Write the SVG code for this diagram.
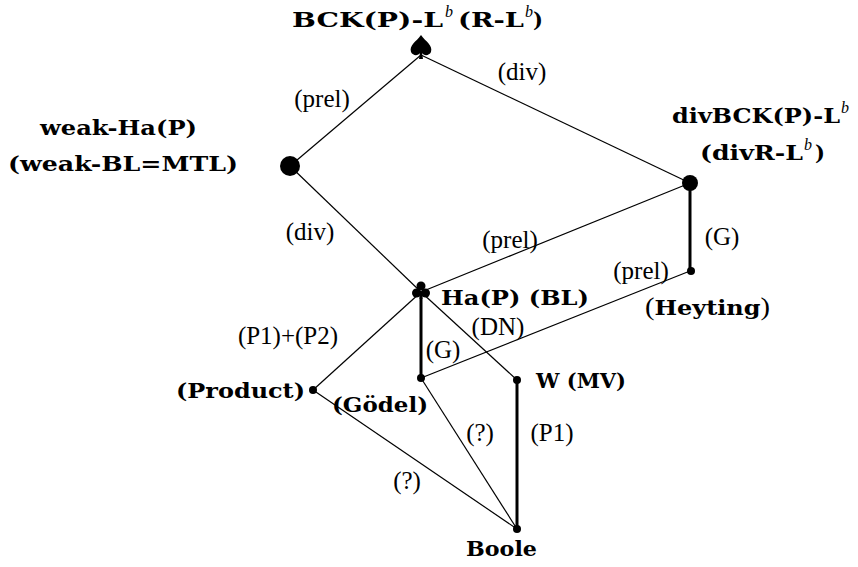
<svg xmlns="http://www.w3.org/2000/svg" width="858" height="567" viewBox="0 0 858 567">
<style>
text{font-family:"Liberation Serif","Times New Roman",serif;font-size:25px;fill:#000}
.lbl{text-anchor:middle}
.b{font-family:"DejaVu Serif","Liberation Serif",serif;font-weight:bold;font-size:21px}
.sup{font-family:"Liberation Serif","Times New Roman",serif;font-style:italic;font-weight:normal;font-size:16px}
.thin{stroke:#000;stroke-width:1.2;fill:none}
.thick{stroke:#000;stroke-width:3;fill:none}
</style>
<rect width="858" height="567" fill="#fff"/>
<g id="connectors">
<line class="thin" x1="421" y1="55" x2="290" y2="166"/>
<line class="thin" x1="421" y1="55" x2="690" y2="183"/>
<line class="thin" x1="290" y1="166" x2="421" y2="292"/>
<line class="thin" x1="421" y1="292" x2="690" y2="183"/>
<line class="thick" x1="690" y1="183" x2="690" y2="271"/>
<line class="thin" x1="690" y1="271" x2="421" y2="378"/>
<line class="thin" x1="421" y1="292" x2="313" y2="390"/>
<line class="thick" x1="421" y1="292" x2="421" y2="378"/>
<line class="thin" x1="421" y1="292" x2="517" y2="380"/>
<line class="thick" x1="517" y1="380" x2="517" y2="529"/>
<line class="thin" x1="313" y1="390" x2="517" y2="529"/>
<line class="thin" x1="421" y1="378" x2="517" y2="529"/>
<text class="lbl" x="522" y="80">(div)</text>
<text class="lbl" x="322" y="107">(prel)</text>
<text class="lbl" x="310" y="240">(div)</text>
<text class="lbl" x="510" y="248">(prel)</text>
<text class="lbl" x="722" y="245">(G)</text>
<text class="lbl" x="641" y="279">(prel)</text>
<text class="lbl" x="498" y="335">(DN)</text>
<text class="lbl" x="288" y="344">(P1)+(P2)</text>
<text class="lbl" x="443" y="358">(G)</text>
<text class="lbl" x="480" y="441">(?)</text>
<text class="lbl" x="552" y="441">(P1)</text>
<text class="lbl" x="407" y="489">(?)</text>
</g>
<g id="n-bck">
<path d="M421,35 C416,42 409,45 411,52 C413,56 418,56 420,53 L419,59 L423,59 L422,53 C424,56 429,56 431,52 C433,45 426,42 421,35 Z" fill="#000"/>
<text class="b" x="292" y="27" textLength="151" lengthAdjust="spacingAndGlyphs">BCK(P)-L</text>
<text class="sup" x="445" y="17">b</text>
<text class="b" x="458" y="27" textLength="66" lengthAdjust="spacingAndGlyphs">(R-L</text>
<text class="sup" x="525" y="17">b</text>
<text class="b" x="533" y="27">)</text>
</g>
<g id="n-weak">
<circle cx="290" cy="166" r="10"/>
<text class="b" x="40" y="135" textLength="157" lengthAdjust="spacingAndGlyphs">weak-Ha(P)</text>
<text class="b" x="8" y="171" textLength="230" lengthAdjust="spacingAndGlyphs">(weak-BL=MTL)</text>
</g>
<g id="n-divbck">
<circle cx="690" cy="183" r="8"/>
<text class="b" x="672" y="123" textLength="168" lengthAdjust="spacingAndGlyphs">divBCK(P)-L</text>
<text class="sup" x="841" y="113">b</text>
<text class="b" x="700" y="160" textLength="103" lengthAdjust="spacingAndGlyphs">(divR-L</text>
<text class="sup" x="804" y="150">b</text>
<text class="b" x="815" y="160">)</text>
</g>
<g id="n-heyting">
<circle cx="691" cy="271" r="4"/>
<text x="645" y="315" textLength="125" lengthAdjust="spacingAndGlyphs">(<tspan class="b">Heyting</tspan>)</text>
</g>
<g id="n-ha">
<circle cx="421" cy="286" r="4.5"/>
<circle cx="416.5" cy="293" r="4.5"/>
<circle cx="425.5" cy="293" r="4.5"/>
<path d="M421,290 L419.5,299 L422.5,299 Z"/>
<text class="b" x="441" y="305" textLength="148" lengthAdjust="spacingAndGlyphs">Ha(P) (BL)</text>
</g>
<g id="n-product">
<circle cx="313" cy="390" r="4"/>
<text class="b" x="176" y="398" textLength="129" lengthAdjust="spacingAndGlyphs">(Product)</text>
</g>
<g id="n-godel">
<circle cx="421" cy="378" r="4"/>
<text class="b" x="332" y="412" textLength="96" lengthAdjust="spacingAndGlyphs">(Gödel)</text>
</g>
<g id="n-w">
<circle cx="517" cy="380" r="4"/>
<text class="b" x="536" y="388" textLength="90" lengthAdjust="spacingAndGlyphs">W (MV)</text>
</g>
<g id="n-boole">
<circle cx="517" cy="529" r="4"/>
<text class="b" x="466" y="556" textLength="71" lengthAdjust="spacingAndGlyphs">Boole</text>
</g>
</svg>
